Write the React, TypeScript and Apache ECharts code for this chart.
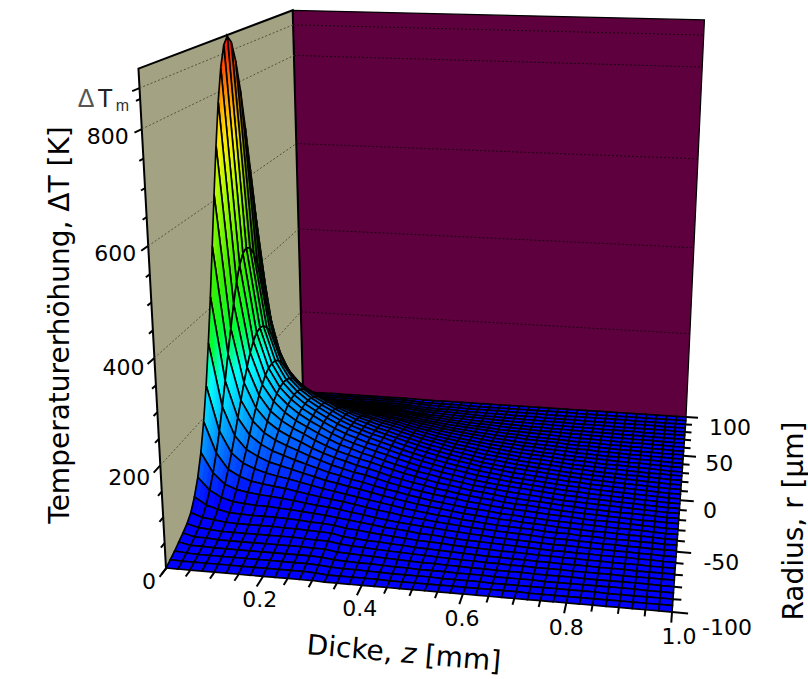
import React, { useEffect, useRef } from "react";
import * as echarts from "echarts";

const zNodes = [0,0.025,0.05,0.075,0.1,0.125,0.15,0.175,0.2,0.225,0.25,0.275,0.3,0.325,0.35,0.375,0.4,0.425,0.45,0.475,0.5,0.525,0.55,0.575,0.6,0.625,0.65,0.675,0.7,0.725,0.75,0.775,0.8,0.825,0.85,0.875,0.9,0.925,0.95,0.975,1];
const rNodes = [-100,-95,-90,-85,-80,-75,-70,-65,-60,-55,-50,-45,-40,-35,-30,-25,-20,-15,-10,-5,0,5,10,15,20,25,30,35,40,45,50,55,60,65,70,75,80,85,90,95,100];
// temperature rise [K]: one row per z node, columns |r| = 0, 5, ... 100 um
const tempRows = [
[898,884,844,782,702,612,516,422,336,258,193,139,98,68,46,34,26,19,12,6,1],
[477,471,453,425,387,344,299,252,207,166,130,99,73,53,38,28,20,14,10,5,1],
[310,307,296,280,258,233,205,177,149,122,98,77,60,46,35,26,20,14,9,5,1],
[235,233,226,214,200,182,163,143,122,103,85,68,53,41,32,24,18,13,9,5,1],
[195,193,188,180,168,155,140,125,109,93,77,64,51,40,31,24,18,13,9,5,1],
[170,169,165,158,149,138,126,113,99,86,73,61,49,39,31,24,18,13,9,5,1],
[152,151,148,142,135,126,116,105,93,81,70,59,49,39,31,24,18,13,9,5,1],
[138,137,134,130,124,116,107,97,87,77,67,57,47,39,31,24,18,13,9,5,1],
[125,124,122,118,112,105,98,90,81,72,63,54,46,38,30,24,18,13,9,5,1],
[113,112,110,107,102,96,90,83,75,67,59,51,44,37,30,24,18,13,9,5,1],
[103,102,100,97,93,88,82,76,69,62,55,48,42,35,29,23,18,13,9,5,1],
[95,94,92,90,86,82,76,71,65,58,52,46,40,34,28,22,17,13,9,5,1],
[87,86,85,82,79,75,70,65,60,54,49,43,37,32,27,22,17,12,8,4,1],
[80,80,78,76,74,70,66,61,56,50,45,39,34,28,22,18,13,9,6,2,0],
[73,73,72,69,67,64,60,55,51,46,41,36,31,26,20,16,12,8,5,2,0],
[66,66,65,63,61,57,54,50,46,42,37,32,28,23,18,15,11,7,5,2,0],
[60,60,59,57,55,52,49,46,42,38,34,29,25,21,17,13,10,7,4,2,0],
[54,54,53,51,50,47,44,41,38,34,30,26,23,19,15,12,9,6,4,2,0],
[49,49,48,47,45,43,40,37,34,31,27,24,21,17,14,11,8,5,3,1,0],
[44,44,43,42,40,38,36,33,31,28,25,22,18,15,12,10,7,5,3,1,0],
[40,40,39,38,37,35,33,30,28,25,22,20,17,14,11,9,6,4,3,1,0],
[36,36,35,34,33,31,30,27,25,23,20,18,15,13,10,8,6,4,3,1,0],
[32,32,31,30,29,28,26,24,22,20,18,16,13,11,9,7,5,4,2,1,0],
[29,29,28,28,27,25,24,22,20,18,16,14,12,10,8,6,5,3,2,1,0],
[26,26,25,25,24,23,21,20,18,16,15,13,11,9,7,6,4,3,2,1,0],
[23,23,23,22,21,20,19,17,16,14,13,11,10,8,6,5,4,3,2,1,0],
[21,21,21,20,19,18,17,16,15,13,12,10,9,7,6,5,3,2,1,1,0],
[19,19,19,18,17,17,16,14,13,12,11,9,8,7,5,4,3,2,1,1,0],
[17,17,17,16,16,15,14,13,12,11,10,8,7,6,5,4,3,2,1,1,0],
[15,15,15,14,14,13,12,11,11,9,8,7,6,5,4,3,2,2,1,0,0],
[13,13,13,12,12,11,11,10,9,8,7,6,5,5,4,3,2,1,1,0,0],
[12,12,12,11,11,10,10,9,8,8,7,6,5,4,3,3,2,1,1,0,0],
[10,10,10,10,9,9,8,8,7,6,6,5,4,4,3,2,2,1,1,0,0],
[9,9,9,9,8,8,7,7,6,6,5,4,4,3,3,2,1,1,1,0,0],
[8,8,8,8,7,7,7,6,6,5,4,4,3,3,2,2,1,1,1,0,0],
[7,7,7,7,6,6,6,5,5,4,4,3,3,2,2,2,1,1,0,0,0],
[6,6,6,6,6,5,5,5,4,4,3,3,3,2,2,1,1,1,0,0,0],
[5,5,5,5,5,4,4,4,4,3,3,2,2,2,1,1,1,1,0,0,0],
[4,4,4,4,4,4,3,3,3,3,2,2,2,1,1,1,1,0,0,0,0],
[3,3,3,3,3,3,2,2,2,2,2,1,1,1,1,1,0,0,0,0,0],
[3,3,3,3,3,3,2,2,2,2,2,1,1,1,1,1,0,0,0,0,0],
];

const zMajor = [0.2, 0.4, 0.6, 0.8, 1.0];
const zMinor = [0,0.05,0.1,0.15,0.25,0.3,0.35,0.45,0.5,0.55,0.65,0.7,0.75,0.85,0.9,0.95];
const rMajor = [100, 50, 0, -50, -100];
const rMinor = [90,80,70,60,40,30,20,10,-10,-20,-30,-40,-60,-70,-80,-90];
const tMajor = [0, 200, 400, 600, 800];
const tMinor = [50,100,150,250,300,350,450,500,550,650,700,750,850];
const dottedLevels = [200, 400, 600, 800, 868];
const tMarked = 868;
const tTop = 900;

const zLabels = ["0.2", "0.4", "0.6", "0.8", "1.0"];
const rLabels = ["100", "50", "0", "-50", "-100"];
const tLabels = ["0", "200", "400", "600", "800"];

// label offsets from the axis point, in px
const zLabelOffsets = [[-3, 23], [-2, 23], [-1, 24], [0, 25], [7, 24]];
const rLabelOffsets = [[44, 10], [36, 8], [30, 10], [45, 11], [55, 15]];
const tLabelOffsets = [[-10, 13], [-10, 12], [-10, 10], [-12, 8], [-13, 7]];

const colourStops: [number, number[]][] = [
  [0, [0, 0, 255]], [55, [0, 0, 255]], [100, [0, 70, 255]], [150, [0, 140, 255]],
  [200, [0, 200, 255]], [260, [0, 255, 255]], [300, [0, 255, 140]], [340, [0, 255, 50]],
  [450, [60, 240, 0]], [600, [170, 255, 0]], [700, [255, 240, 0]], [770, [255, 170, 0]],
  [840, [255, 80, 0]], [900, [255, 0, 0]],
];

const FONT = '"DejaVu Sans"';
const P = [
  [470.1, 234.9, -40, 166],
  [10.8, -49.8, -506, 568.5],
  [-0.05345, 0.3231, -0.09, 1],
];
function project(z: number, r: number, T: number): number[] {
  const t = (r + 100) / 200, h = T / tTop;
  const w = P[2][0] * z + P[2][1] * t + P[2][2] * h + P[2][3];
  return [
    (P[0][0] * z + P[0][1] * t + P[0][2] * h + P[0][3]) / w,
    (P[1][0] * z + P[1][1] * t + P[1][2] * h + P[1][3]) / w,
  ];
}
const node = (iz: number, ir: number) => tempRows[iz][Math.abs(ir - 20)];

function colourFor(T: number, shade: number): string {
  let c = colourStops[colourStops.length - 1][1];
  for (let i = 1; i < colourStops.length; i++) {
    if (T <= colourStops[i][0]) {
      const [a, ca] = colourStops[i - 1], [b, cb] = colourStops[i];
      const f = (T - a) / (b - a);
      c = ca.map((v, k) => v + (cb[k] - v) * f);
      break;
    }
  }
  return `rgb(${c.map((v) => Math.round(v * shade)).join(",")})`;
}

// painter's order: back row first, then from both z ends toward the viewer's z
const cells: number[][] = [];
for (let ir = rNodes.length - 2; ir >= 0; ir--) {
  const order: number[] = [];
  for (let iz = 0; iz < zNodes.length - 1; iz++) order.push(iz);
  order.sort((a, b) => Math.abs(zNodes[b] - 0.5) - Math.abs(zNodes[a] - 0.5));
  order.forEach((iz) => cells.push([iz, ir]));
}

function App() {
  const ref = useRef<HTMLDivElement>(null);
  useEffect(() => {
    document.body.style.margin = "0";
    const chart = echarts.init(ref.current!, undefined, { renderer: "svg" });
    const toPx = (api: any, p: number[]) => api.coord(p);

    const renderWalls = (_: any, api: any) => {
      const poly = (pts: number[][], fill: string, lineWidth: number) => ({
        type: "polygon",
        shape: { points: pts.map((p) => toPx(api, p)) },
        style: { fill, stroke: "#000", lineWidth },
      });
      return {
        type: "group",
        children: [
          poly([project(0, 100, 0), project(1, 100, 0), project(1, 100, tTop), project(0, 100, tTop)], "#5e003e", 1.2),
          poly([project(0, -100, 0), project(0, 100, 0), project(0, 100, tTop), project(0, -100, tTop)], "#a3a283", 2),
        ],
      };
    };

    const renderDotted = (params: any, api: any) => {
      const T = dottedLevels[params.dataIndex];
      const line = (a: number[], b: number[], stroke: string) => {
        const [p, q] = [toPx(api, a), toPx(api, b)];
        return {
          type: "line",
          shape: { x1: p[0], y1: p[1], x2: q[0], y2: q[1] },
          style: { stroke, lineWidth: 1, lineDash: [2, 2] },
        };
      };
      return {
        type: "group",
        children: [
          line(project(0, -100, T), project(0, 100, T), "#55553f"),
          line(project(0, 100, T), project(1, 100, T), "#1c0012"),
        ],
      };
    };

    const renderCell = (params: any, api: any) => {
      const [iz, ir] = cells[params.dataIndex];
      const z0 = zNodes[iz], z1 = zNodes[iz + 1], r0 = rNodes[ir], r1 = rNodes[ir + 1];
      const T00 = node(iz, ir), T10 = node(iz + 1, ir), T11 = node(iz + 1, ir + 1), T01 = node(iz, ir + 1);
      const slope = (T01 + T11 - T00 - T10) / 2;
      const shade = 1 - 0.5 * Math.min(1, Math.max(0, -slope / 50));
      const range = Math.max(T00, T10, T11, T01) - Math.min(T00, T10, T11, T01);
      const outline = [project(z0, r0, T00), project(z1, r0, T10), project(z1, r1, T11), project(z0, r1, T01)].map((p) => toPx(api, p));
      const children: any[] = [];
      const strips = Math.max(1, Math.min(24, Math.ceil(range / 22)));
      const lineWidth = 1.65;
      if (strips > 1) {
        for (let s = 0; s < strips; s++) {
          const a = s / strips, b = (s + 1) / strips;
          const at = (f: number) => [z0 + (z1 - z0) * f, T00 + (T10 - T00) * f, T01 + (T11 - T01) * f];
          const A = at(a), B = at(b);
          children.push({
            type: "polygon",
            shape: { points: [project(A[0], r0, A[1]), project(B[0], r0, B[1]), project(B[0], r1, B[2]), project(A[0], r1, A[2])].map((p) => toPx(api, p)) },
            style: (() => { const c = colourFor((A[1] + A[2] + B[1] + B[2]) / 4, shade); return { fill: c, stroke: c, lineWidth: 0.6 }; })(),
          });
        }
        children.push({ type: "polygon", shape: { points: outline }, style: { fill: "none", stroke: "#000", lineWidth } });
      } else {
        children.push({
          type: "polygon",
          shape: { points: outline },
          style: { fill: colourFor((T00 + T10 + T11 + T01) / 4, shade), stroke: "#000", lineWidth },
        });
      }
      return { type: "group", children };
    };

    // ticks: [kind, value, isMajor]
    const ticks: any[][] = [
      ...zMajor.map((v) => ["z", v, 1]), ...zMinor.map((v) => ["z", v, 0]),
      ...rMajor.map((v) => ["r", v, 1]), ...rMinor.map((v) => ["r", v, 0]),
      ...tMajor.map((v) => ["t", v, 1]), ...tMinor.map((v) => ["t", v, 0]), ["t", tMarked, 1],
    ];
    const renderTick = (params: any, api: any) => {
      const [kind, v, major] = ticks[params.dataIndex];
      let a: number[], b: number[];
      if (kind === "z") { a = project(v, -100, 0); b = project(v, major ? -108 : -105, 0); }
      else if (kind === "r") { a = project(1, v, 0); b = project(major ? 1.03 : 1.016, v, 0); }
      else { a = project(0, -100, v); b = project(0, major ? -107 : -104, v); }
      const p = toPx(api, a), q = toPx(api, b);
      return { type: "line", shape: { x1: p[0], y1: p[1], x2: q[0], y2: q[1] }, style: { stroke: "#000", lineWidth: 2 } };
    };

    // tick labels: [text, z, r, T, dx, dy, right-aligned]
    const labels: any[][] = [
      ...zLabels.map((s, i) => [s, zMajor[i], -100, 0, zLabelOffsets[i][0], zLabelOffsets[i][1], 0]),
      ...rLabels.map((s, i) => [s, 1, rMajor[i], 0, rLabelOffsets[i][0], rLabelOffsets[i][1], 0]),
      ...tLabels.map((s, i) => [s, 0, -100, tMajor[i], tLabelOffsets[i][0], tLabelOffsets[i][1], 1]),
    ];
    const renderLabel = (params: any, api: any) => {
      const [text, z, r, T, dx, dy, right] = labels[params.dataIndex];
      const p = toPx(api, project(z, r, T));
      return {
        type: "text", x: p[0] + dx, y: p[1] + dy,
        style: { text, font: `22px ${FONT}`, fill: "#000", align: right ? "right" : "center", verticalAlign: "middle" },
      };
    };

    const customBase = { type: "custom", coordinateSystem: "cartesian2d", silent: true, clip: false, progressive: 0, animation: false };
    const idx = (n: number) => Array.from({ length: n }, (_, i) => [i]);

    chart.setOption({
      animation: false,
      backgroundColor: "#fff",
      grid: { left: 0, right: 0, top: 0, bottom: 0 },
      xAxis: { type: "value", min: 0, max: 808, show: false },
      yAxis: { type: "value", min: 0, max: 679, inverse: true, show: false },
      series: [
        { ...customBase, renderItem: renderWalls, data: idx(1), z: 1 },
        { ...customBase, renderItem: renderDotted, data: idx(dottedLevels.length), z: 2 },
        { ...customBase, renderItem: renderTick, data: idx(ticks.length), z: 3 },
        { ...customBase, renderItem: renderCell, data: idx(cells.length), z: 4 },
        { ...customBase, renderItem: renderLabel, data: idx(labels.length), z: 5 },
      ],
      graphic: [
        {
          type: "text", x: 59, y: 325, rotation: Math.PI / 2, silent: true,
          style: { text: "Temperaturerhöhung, ΔT [K]", font: `28px ${FONT}`, fill: "#000", align: "center", verticalAlign: "middle" },
        },
        {
          type: "text", x: 793, y: 521, rotation: Math.PI / 2, silent: true,
          style: { text: "Radius, r [µm]", font: `28px ${FONT}`, fill: "#000", align: "center", verticalAlign: "middle" },
        },
        {
          type: "text", x: 404, y: 653, rotation: -5 * Math.PI / 180, silent: true,
          style: {
            text: "{a|Dicke, }{b|z}{a| [mm]}", align: "center", verticalAlign: "middle",
            rich: {
              a: { font: `28px ${FONT}`, fill: "#000" },
              b: { font: `italic 28px ${FONT}`, fill: "#000" },
            },
          },
        },
        {
          type: "text", x: 129, y: 99, silent: true,
          style: {
            text: "{d|Δ}{t|T}{m|m}", align: "right", verticalAlign: "middle",
            rich: {
              d: { font: '25px "Liberation Sans"', fill: "#555", verticalAlign: "top", lineHeight: 28 },
              t: { font: '25px "Liberation Sans"', fill: "#222", padding: [0, 3, 0, 3], verticalAlign: "top", lineHeight: 28 },
              m: { font: '16px "Liberation Sans"', fill: "#333", verticalAlign: "bottom", lineHeight: 12 },
            },
          },
        },
      ],
    });
    return () => chart.dispose();
  }, []);
  return <div ref={ref} style={{ width: 808, height: 679 }} />;
}

export default App;
